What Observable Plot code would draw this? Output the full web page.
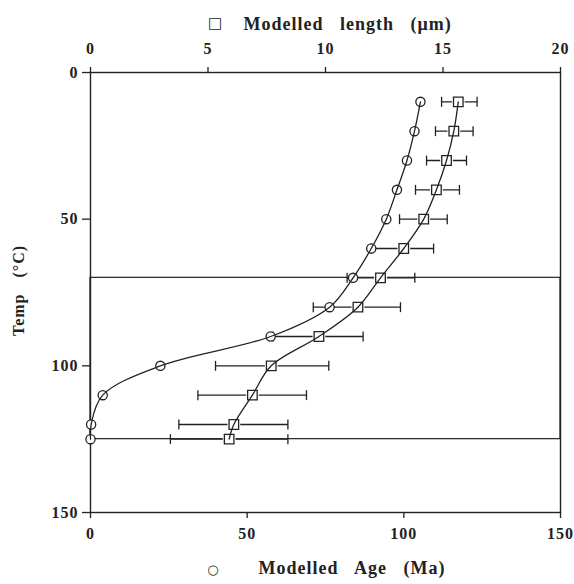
<!DOCTYPE html>
<html><head><meta charset="utf-8">
<script src="https://cdn.jsdelivr.net/npm/d3@7"></script>
<script src="https://cdn.jsdelivr.net/npm/@observablehq/plot@0.6"></script>
<style>body{margin:0;background:#fff}</style>
</head><body><div id="chart"></div>
<script>
const temps = [10, 20, 30, 40, 50, 60, 70, 80, 90, 100, 110, 120, 125];
const ages = [105.3, 103.4, 101, 97.8, 94.4, 89.6, 83.8, 76.3, 57.5, 22.3, 3.9, 0.2, 0];
const lengths = [15.65, 15.46, 15.15, 14.72, 14.18, 13.33, 12.34, 11.38, 9.72, 7.69, 6.89, 6.10, 5.90];
const lengthLo = [14.94, 14.68, 14.3, 13.83, 13.15, 11.96, 10.92, 9.48, 7.77, 5.32, 4.57, 3.76, 3.4];
const lengthHi = [16.45, 16.28, 16.0, 15.7, 15.18, 14.6, 13.8, 13.19, 11.6, 10.14, 9.19, 8.4, 8.4];
const ageTicks = [0, 50, 100, 150];
const lengthTicks = [0, 5, 10, 15, 20];
const tempTicks = [0, 50, 100, 150];
const zoneTemps = [70, 125];
const ageMax = 150, lengthMax = 20;
const k = ageMax / lengthMax; // length axis mapped onto the age axis

const rows = temps.map((t, i) => ({t, age: ages[i], len: lengths[i] * k, lo: lengthLo[i] * k, hi: lengthHi[i] * k}));
const zone = [{y1: zoneTemps[0], y2: zoneTemps[1]}];
const capSymbol = {draw(ctx, size) { const h = Math.sqrt(size); ctx.moveTo(0, -h / 2); ctx.lineTo(0, h / 2); }};

const chart = Plot.plot({
  width: 574, height: 584,
  marginLeft: 90, marginRight: 14, marginTop: 72, marginBottom: 72,
  style: {fontFamily: "'Liberation Serif', serif", fontSize: "16px", fontWeight: "bold", color: "#222", background: "#fff", wordSpacing: "11px", letterSpacing: "1px"},
  x: {domain: [0, ageMax]},
  y: {domain: [0, 150], reverse: true},
  marks: [
    Plot.frame({stroke: "#222", strokeWidth: 1.4}),
    Plot.rect(zone, {x1: () => 0, x2: () => ageMax, y1: "y1", y2: "y2", fill: "none", stroke: "#222", strokeWidth: 1.2}),
    Plot.link(rows, {x1: "lo", x2: "hi", y1: "t", y2: "t", stroke: "#222", strokeWidth: 1.3}),
    Plot.dot(rows, {x: "lo", y: "t", symbol: capSymbol, r: 5.6, stroke: "#222", strokeWidth: 1.3}),
    Plot.dot(rows, {x: "hi", y: "t", symbol: capSymbol, r: 5.6, stroke: "#222", strokeWidth: 1.3}),
    Plot.dot(rows, {x: "len", y: "t", symbol: "square", r: 7.2, fill: "white", stroke: "none"}),
    Plot.dot(rows, {x: "len", y: "t", symbol: "square", r: 5.4, fill: "white", stroke: "#222", strokeWidth: 1.3}),
    Plot.dot(rows, {x: "age", y: "t", r: 4.6, fill: "white", stroke: "#222", strokeWidth: 1.3}),
    Plot.line(rows, {x: "age", y: "t", curve: "catmull-rom", stroke: "#222", strokeWidth: 1.3}),
    Plot.line(rows, {x: "len", y: "t", curve: "catmull-rom", stroke: "#222", strokeWidth: 1.3}),
    Plot.axisX(ageTicks, {anchor: "bottom", tickSize: 6, tickPadding: 9, label: null, strokeWidth: 1.3}),
    Plot.axisX(lengthTicks.map(l => l * k), {anchor: "top", tickSize: 6, tickPadding: 13, tickFormat: d => String(Math.round(d / k)), label: null, strokeWidth: 1.3}),
    Plot.axisY(tempTicks, {anchor: "left", tickSize: 8, tickPadding: 4, label: null, strokeWidth: 1.3}),
    Plot.text(["□"], {frameAnchor: "top", dx: -110, dy: -55, fontSize: 15, fontFamily: "DejaVu Sans", fontWeight: "normal"}),
    Plot.text(["Modelled length (μm)"], {frameAnchor: "top", textAnchor: "start", dx: -82, dy: -55, fontSize: 18, letterSpacing: "0px"}),
    Plot.text(["○"], {frameAnchor: "bottom", dx: -112, dy: 61, fontSize: 13, fontFamily: "DejaVu Sans", fontWeight: "normal"}),
    Plot.text(["Modelled Age (Ma)"], {frameAnchor: "bottom", textAnchor: "start", dx: -67, dy: 61, fontSize: 18, letterSpacing: "0px"}),
    Plot.text(["Temp (°C)"], {frameAnchor: "left", textAnchor: "middle", dx: -72, dy: -2, rotate: -90, fontSize: 16, letterSpacing: "0px", wordSpacing: "6px"})
  ]
});
document.getElementById("chart").appendChild(chart);
</script>
</body></html>
